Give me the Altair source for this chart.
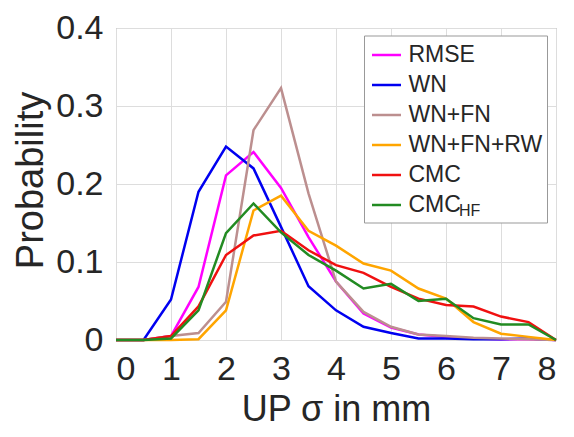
import altair as alt
import pandas as pd

x_vals = [0, 0.5, 1, 1.5, 2, 2.5, 3, 3.5, 4, 4.5, 5, 5.5, 6, 6.5, 7, 7.5, 8]

series_names = ["RMSE", "WN", "WN+FN", "WN+FN+RW", "CMC", "CMC_HF"]
series_colors = ["#FF00FF", "#0000F0", "#BC8F8F", "#FFA500", "#F01010", "#228B22"]

rmse     = [0, 0, 0.005, 0.068, 0.211, 0.241, 0.195, 0.132, 0.075, 0.034, 0.016, 0.007, 0.004, 0.002, 0.001, 0.001, 0]
wn       = [0, 0, 0.052, 0.190, 0.248, 0.220, 0.145, 0.069, 0.038, 0.017, 0.009, 0.002, 0.002, 0.001, 0.001, 0.002, 0]
wn_fn    = [0, 0, 0.005, 0.009, 0.049, 0.269, 0.323, 0.188, 0.075, 0.036, 0.017, 0.007, 0.005, 0.003, 0.002, 0.001, 0]
wn_fn_rw = [0, 0, 0.000, 0.001, 0.038, 0.166, 0.185, 0.140, 0.121, 0.098, 0.089, 0.066, 0.053, 0.023, 0.008, 0.004, 0]
cmc      = [0, 0, 0.005, 0.043, 0.109, 0.134, 0.140, 0.115, 0.096, 0.086, 0.068, 0.053, 0.045, 0.043, 0.030, 0.023, 0]
cmc_hf   = [0, 0, 0.002, 0.038, 0.137, 0.175, 0.138, 0.109, 0.089, 0.066, 0.072, 0.050, 0.053, 0.028, 0.020, 0.020, 0]

all_series = [rmse, wn, wn_fn, wn_fn_rw, cmc, cmc_hf]

x_ticks = [0, 1, 2, 3, 4, 5, 6, 7, 8]
y_ticks = [0, 0.1, 0.2, 0.3, 0.4]

rows = []
for name, vals in zip(series_names, all_series):
    for xv, yv in zip(x_vals, vals):
        rows.append({"x": xv, "y": yv, "series": name})
df = pd.DataFrame(rows)

FONT = "Liberation Sans"
TXT = "#262626"
W, H = 440, 312
LX, LY = 248.5, 5

x_enc = alt.X(
    "x:Q",
    scale=alt.Scale(domain=[0, 8], nice=False, zero=False),
    axis=alt.Axis(
        values=x_ticks, format="d", title="UP σ in mm",
        labelFontSize=34, labelPadding=12, ticks=False, tickSize=0,
        titleFontSize=36, titleFontWeight="normal", titleY=88,
        titleBaseline="bottom", titleX=W / 2, titleAlign="center",
    ),
)
y_enc = alt.Y(
    "y:Q",
    scale=alt.Scale(domain=[0, 0.4], nice=False),
    axis=alt.Axis(
        values=y_ticks,
        labelExpr="datum.value == 0 ? '0' : format(datum.value, '.1f')",
        title="Probability", labelFontSize=34, labelPadding=13,
        ticks=False, tickSize=0,
        titleFontSize=38, titleFontWeight="normal", titleAngle=270,
        titleX=-74, titleY=152, titleBaseline="alphabetic", titleAlign="center",
    ),
)
color_enc = alt.Color(
    "series:N",
    scale=alt.Scale(domain=series_names, range=series_colors),
    legend=alt.Legend(
        orient="none", legendX=LX, legendY=LY, title=None,
        symbolType="stroke", symbolSize=841, symbolStrokeWidth=2.5,
        labelFontSize=23, labelOffset=6, rowPadding=2, padding=6,
        labelExpr="datum.label == 'CMC_HF' ? 'CMC' : datum.label",
        labelColor=TXT, labelFont=FONT,
    ),
)

box = alt.Chart(pd.DataFrame({"k": [0]})).mark_rect(
    fill="white", stroke="#999999", strokeWidth=1
).encode(
    x=alt.value(LX), x2=alt.value(LX + 183),
    y=alt.value(8), y2=alt.value(195),
)

layers = [box]
for name in series_names:
    layers.append(
        alt.Chart(df)
        .transform_filter(alt.datum.series == name)
        .mark_line(strokeWidth=2.5)
        .encode(x=x_enc, y=y_enc, color=color_enc)
    )

sub = alt.Chart(pd.DataFrame({"t": ["HF"]})).mark_text(
    fontSize=16, align="left", baseline="alphabetic", color=TXT, font=FONT
).encode(text="t:N", x=alt.value(343), y=alt.value(188))

chart = (
    alt.layer(*layers, sub)
    .properties(
        width=W, height=H,
        autosize=alt.AutoSizeParams(type="none"),
        padding={"left": 108, "top": 20, "right": 10, "bottom": 89},
    )
    .configure_view(stroke="#999999", strokeWidth=1)
    .configure_axis(
        grid=True, gridColor="#dddddd", gridWidth=1, domain=False,
        labelFont=FONT, titleFont=FONT, labelColor=TXT, titleColor=TXT,
    )
)

chart.save("out.html", embed_options={"renderer": "svg", "actions": False})
